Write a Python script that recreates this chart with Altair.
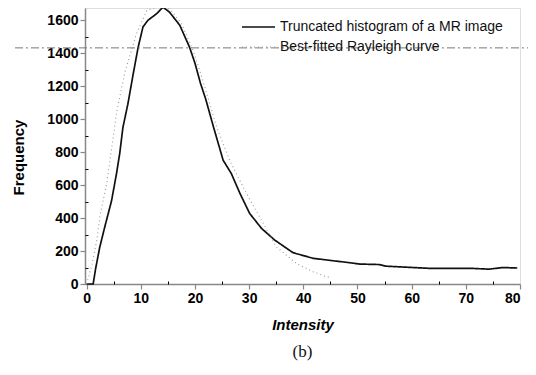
import altair as alt
import pandas as pd

# Truncated histogram (solid curve)
hist_x = [0, 1.2, 1.7, 2.4, 3.3, 4.6, 5.5, 6.1, 6.7, 7.6, 8.6, 9.5, 10.4, 11.3, 12.9, 14.1,
          15.3, 17.2, 19.0, 20.0, 21.0, 22.0, 23.4, 25.2, 26.7, 28.3, 30.1, 32.3, 34.7,
          38.1, 41.8, 45.5, 47.9, 50.4, 54.0, 55.3, 59.0, 63.3, 67.0, 71.0, 74.3, 76.8, 79.5]
hist_y = [0, 0, 100, 220, 340, 505, 667, 790, 950, 1090, 1275, 1435, 1560, 1600, 1640, 1680,
          1650, 1570, 1437, 1340, 1220, 1120, 955, 751, 671, 550, 428, 337, 267,
          190, 156, 141, 132, 121, 118, 108, 102, 95, 95, 95, 90, 100, 97]

# Best-fitted Rayleigh curve (dotted)
ray_x = [0, 1.0, 1.9, 2.5, 3.7, 4.3, 5.6, 7.1, 9.2, 11.1, 13.7, 15.5, 17.5, 19.5, 20.9,
         22.5, 24.0, 26.4, 29.5, 32.6, 35.0, 38.7, 41.8, 44.2, 45.0]
ray_y = [0, 120, 270, 420, 610, 750, 1054, 1290, 1519, 1660, 1690, 1665, 1580, 1430, 1295,
         1120, 953, 751, 550, 368, 226, 125, 75, 44, 40]

series_names = ["Truncated histogram of a MR image", "Best-fitted Rayleigh curve"]

x_major = [0, 10, 20, 30, 40, 50, 60, 70, 80]
x_minor = [5, 15, 25, 35, 45, 55, 65, 75]
y_major = [0, 200, 400, 600, 800, 1000, 1200, 1400, 1600]
y_minor = [100, 300, 500, 700, 900, 1100, 1300, 1500]
scan_line_level = [1433]

df = pd.concat([
    pd.DataFrame({"x": hist_x, "y": hist_y, "series": series_names[0], "o": range(len(hist_x))}),
    pd.DataFrame({"x": ray_x, "y": ray_y, "series": series_names[1], "o": range(len(ray_x))}),
])

W, H = 435, 276
xscale = alt.Scale(domain=[-0.3, 80], nice=False, zero=False)
yscale = alt.Scale(domain=[0, 1675], nice=False, zero=False)

FONT = "Liberation Sans"

lines = alt.Chart(df).mark_line().encode(
    x=alt.X("x:Q", scale=xscale,
            axis=alt.Axis(orient="bottom", values=x_major, title="Intensity", tickSize=5,
                          labelPadding=2, titlePadding=12, titleFontStyle="italic",
                          titleFontWeight="bold", titleFontSize=15, labelFontSize=14,
                          labelFontWeight="bold", grid=False, domainWidth=1.5, tickWidth=1.2,
                          format="d")),
    y=alt.Y("y:Q", scale=yscale,
            axis=alt.Axis(orient="left", values=y_major, title="Frequency", tickSize=5,
                          labelPadding=2, titlePadding=20, titleFontWeight="bold",
                          titleFontSize=15, labelFontSize=14, labelFontWeight="bold",
                          grid=False, domainWidth=1.5, tickWidth=1.2, format="d",
                          titleY=149)),
    order="o:Q",
    color=alt.Color("series:N", scale=alt.Scale(domain=series_names, range=["#111111", "#999999"]),
                    legend=alt.Legend(orient="none", legendX=161.5, legendY=7, title=None,
                                      symbolType="M-1.5,0L1.5,0", symbolSize=484,
                                      symbolStrokeWidth=1.5,
                                      labelFontSize=14, labelFont=FONT, labelColor="#111111",
                                      labelOffset=9.5, rowPadding=1, labelLimit=400)),
    strokeDash=alt.StrokeDash("series:N", scale=alt.Scale(domain=series_names, range=[[1, 0], [1, 3]]),
                              legend=None),
    strokeWidth=alt.StrokeWidth("series:N", scale=alt.Scale(domain=series_names, range=[1.7, 1.1]),
                                legend=None),
)

scan_rule = alt.Chart(pd.DataFrame({"v": scan_line_level})).mark_rule(
    color="#777777", strokeWidth=1, strokeDash=[8, 3, 2, 3]
).encode(
    y=alt.Y("v:Q", scale=yscale, axis=None),
    x=alt.value(-70),
    x2=alt.value(451),
)

minor = alt.Chart(df).mark_point(opacity=0).encode(
    x=alt.X("x:Q", scale=xscale,
            axis=alt.Axis(orient="top", offset=-H, values=x_minor, labels=False, domain=False,
                          tickSize=3, grid=False, title="", tickColor="black")),
    y=alt.Y("y:Q", scale=yscale,
            axis=alt.Axis(orient="right", offset=-W, values=y_minor, labels=False, domain=False,
                          tickSize=3, grid=False, title="", tickColor="black")),
)

chart = alt.layer(lines, minor, scan_rule).resolve_axis(
    x="independent", y="independent"
).properties(
    width=W, height=H,
    autosize=alt.AutoSizeParams(type="none"),
    padding={"left": 77, "top": 0, "right": 8, "bottom": 83},
    title=alt.TitleParams("(b)", orient="bottom", font="Liberation Serif", fontSize=17,
                          fontWeight="normal", offset=12, color="#111111"),
).configure_view(stroke=None).configure_axis(
    labelFont=FONT, titleFont=FONT, domainColor="#111111", tickColor="#111111",
    labelColor="#111111", titleColor="#111111", grid=False
).configure(background="white")

chart.save("out.html", embed_options={"renderer": "svg", "actions": False})
